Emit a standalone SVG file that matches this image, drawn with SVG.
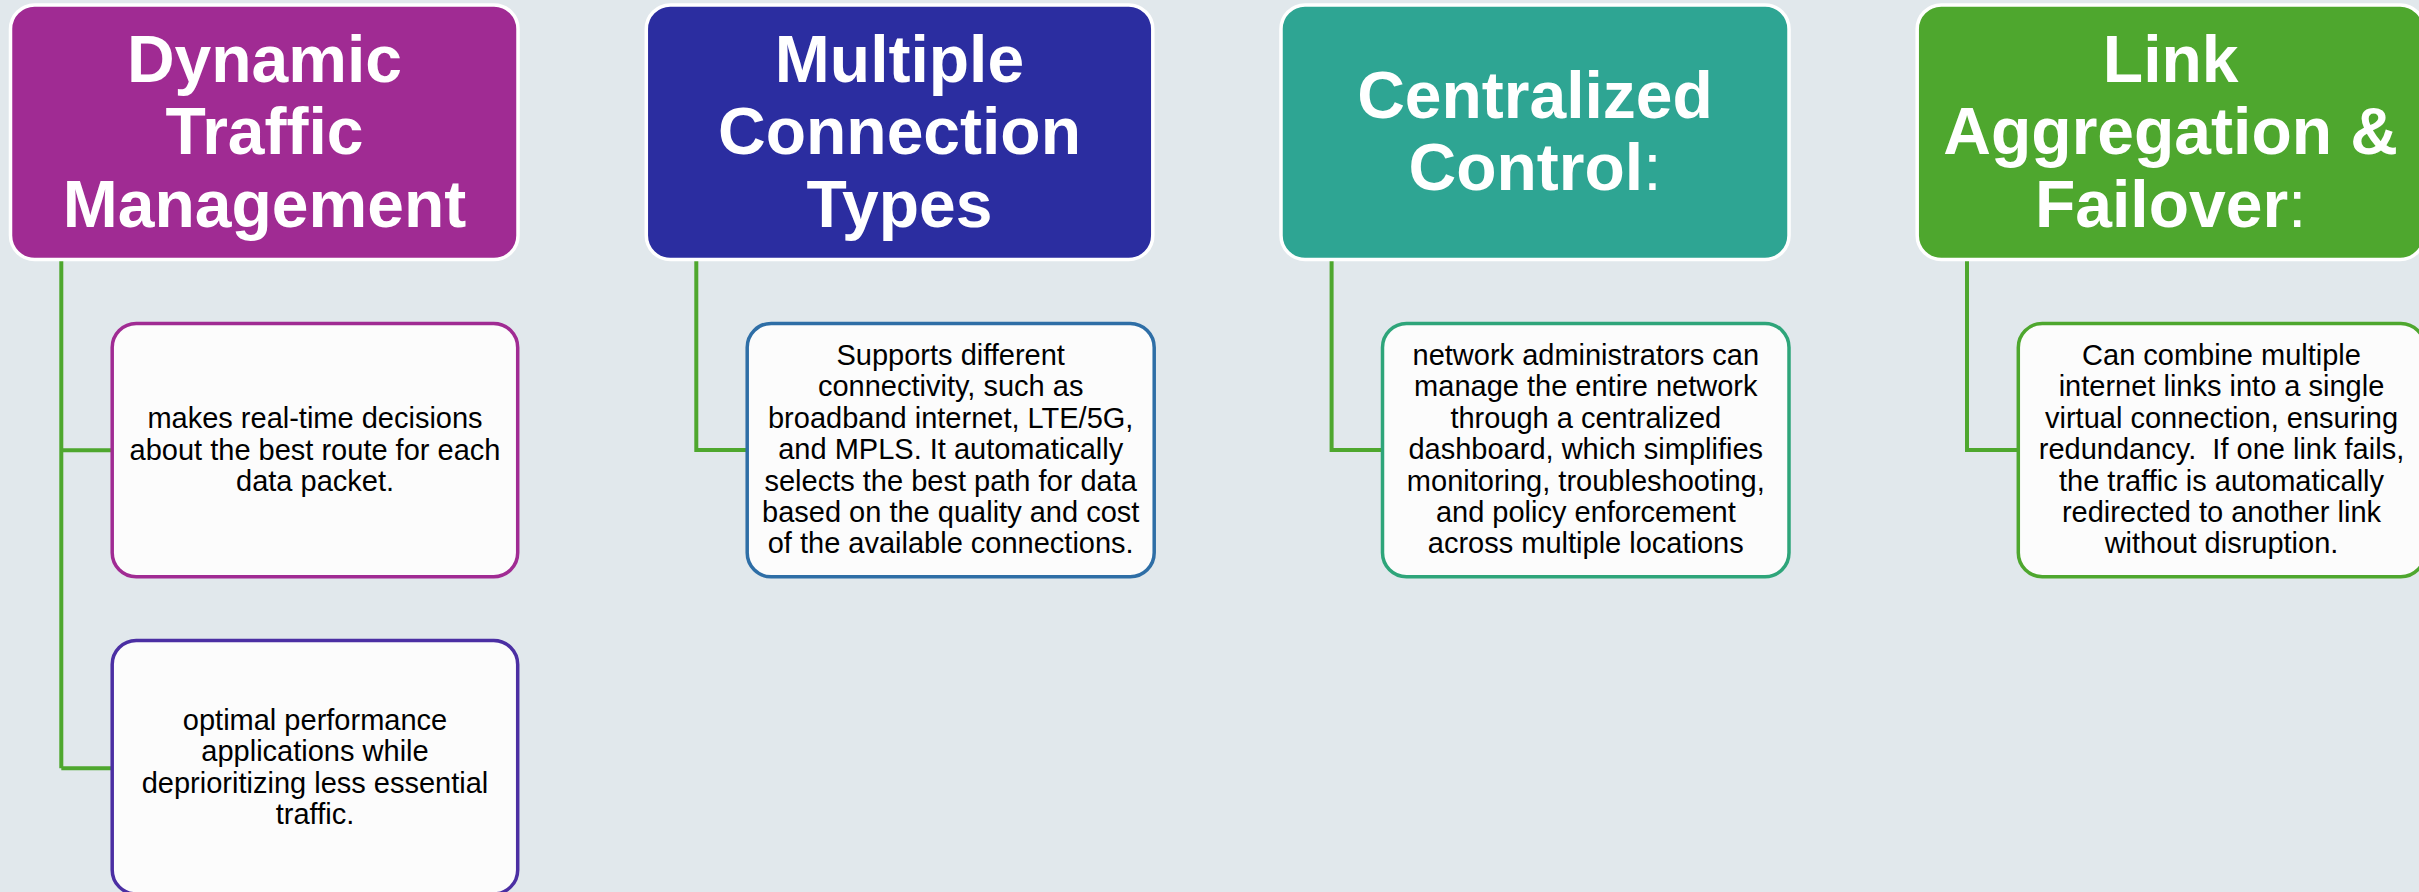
<svg xmlns="http://www.w3.org/2000/svg" width="2419" height="892" viewBox="0 0 2419 892">
<style>
.hdr{stroke:#FFFFFF;stroke-width:3.5}
.ht{font-family:"Liberation Sans",Arial,sans-serif;font-weight:bold;font-size:66px;fill:#FFFFFF;text-anchor:middle}
.ht .n{font-weight:normal}
.body{fill:#FCFCFC;stroke-width:3.5}
.bt{font-family:"Liberation Sans",Arial,sans-serif;font-size:29px;fill:#000000;text-anchor:middle}
.conn{fill:none;stroke:#4EA72E;stroke-width:4}
</style>
<rect width="2419" height="892" fill="#E1E8EC"/>
<g id="connectors">
<path class="conn" d="M61.3 259 V768.2 M61.3 450.3 H112 M61.3 768.2 H112"/>
<path class="conn" d="M696.3 259 V450 H747"/>
<path class="conn" d="M1331.6 259 V450 H1382.5"/>
<path class="conn" d="M1967 259 V450 H2018"/>
</g>
<g id="header-dynamic">
<rect class="hdr" x="10.5" y="5" width="507.5" height="254.5" rx="24" fill="#A02B93"/>
<text class="ht"><tspan x="264.5" y="81.7">Dynamic</tspan><tspan x="264.5" y="154">Traffic</tspan><tspan x="264.5" y="226.7">Management</tspan></text>
</g>
<g id="body-realtime">
<rect class="body" x="112.2" y="323.4" width="405.5" height="253.4" rx="24" stroke="#A02B93"/>
<text class="bt"><tspan x="315" y="428">makes real-time decisions</tspan><tspan x="315" y="459.5">about the best route for each</tspan><tspan x="315" y="491">data packet.</tspan></text>
</g>
<g id="body-optimal">
<rect class="body" x="112.2" y="640.5" width="405.5" height="253.4" rx="24" stroke="#4B2FA3"/>
<text class="bt"><tspan x="315" y="729.7">optimal performance</tspan><tspan x="315" y="761">applications while</tspan><tspan x="315" y="792.5">deprioritizing less essential</tspan><tspan x="315" y="824">traffic.</tspan></text>
</g>
<g id="header-multiple">
<rect class="hdr" x="646.3" y="5" width="506.5" height="254.5" rx="24" fill="#2B2DA0"/>
<text class="ht"><tspan x="899.5" y="81.7">Multiple</tspan><tspan x="899.5" y="154">Connection</tspan><tspan x="899.5" y="226.7">Types</tspan></text>
</g>
<g id="body-supports">
<rect class="body" x="747.2" y="323.4" width="407" height="253.4" rx="24" stroke="#2E6EA6"/>
<text class="bt"><tspan x="950.7" y="365">Supports different</tspan><tspan x="950.7" y="396.4">connectivity, such as</tspan><tspan x="950.7" y="427.8">broadband internet, LTE/5G,</tspan><tspan x="950.7" y="459.2">and MPLS. It automatically</tspan><tspan x="950.7" y="490.6">selects the best path for data</tspan><tspan x="950.7" y="522">based on the quality and cost</tspan><tspan x="950.7" y="553.4">of the available connections.</tspan></text>
</g>
<g id="header-centralized">
<rect class="hdr" x="1281" y="5" width="508" height="254.5" rx="24" fill="#2EA593"/>
<text class="ht"><tspan x="1535" y="117.7">Centralized</tspan><tspan x="1535" y="190">Control<tspan class="n">:</tspan></tspan></text>
</g>
<g id="body-network">
<rect class="body" x="1382.5" y="323.4" width="406.5" height="253.4" rx="24" stroke="#2EA57A"/>
<text class="bt"><tspan x="1585.8" y="365">network administrators can</tspan><tspan x="1585.8" y="396.4">manage the entire network</tspan><tspan x="1585.8" y="427.8">through a centralized</tspan><tspan x="1585.8" y="459.2">dashboard, which simplifies</tspan><tspan x="1585.8" y="490.6">monitoring, troubleshooting,</tspan><tspan x="1585.8" y="522">and policy enforcement</tspan><tspan x="1585.8" y="553.4">across multiple locations</tspan></text>
</g>
<g id="header-link">
<rect class="hdr" x="1917.2" y="5" width="507" height="254.5" rx="24" fill="#4EA72E"/>
<text class="ht"><tspan x="2170.7" y="81.7">Link</tspan><tspan x="2170.7" y="154">Aggregation &amp;</tspan><tspan x="2170.7" y="226.7">Failover<tspan class="n">:</tspan></tspan></text>
</g>
<g id="body-combine">
<rect class="body" x="2018.3" y="323.4" width="406.5" height="253.4" rx="24" stroke="#4EA72E"/>
<text class="bt"><tspan x="2221.5" y="365">Can combine multiple</tspan><tspan x="2221.5" y="396.4">internet links into a single</tspan><tspan x="2221.5" y="427.8">virtual connection, ensuring</tspan><tspan x="2221.5" y="459.2">redundancy.&#160; If one link fails,</tspan><tspan x="2221.5" y="490.6">the traffic is automatically</tspan><tspan x="2221.5" y="522">redirected to another link</tspan><tspan x="2221.5" y="553.4">without disruption.</tspan></text>
</g>
</svg>
